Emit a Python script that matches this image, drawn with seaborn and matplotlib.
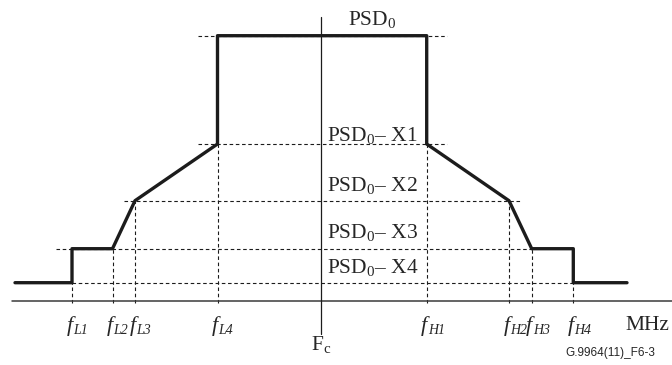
import matplotlib
matplotlib.use("Agg")
import matplotlib.pyplot as plt
import seaborn as sns
import pandas as pd

# frequencies relative to Fc (arbitrary units) and PSD levels above the axis
freq_names = ['L1', 'L2', 'L3', 'L4', 'H1', 'H2', 'H3', 'H4']
freq_pos = [-249, -208.5, -186, -103.5, 105.7, 188, 210.7, 252.3]
freq_level = [18, 52, 100, 156.7, 156.7, 100, 52, 18]

level_labels = ['PSD$_0$', 'PSD$_0$\u2013 X1', 'PSD$_0$\u2013 X2', 'PSD$_0$\u2013 X3', 'PSD$_0$\u2013 X4']
level_vals = [265, 156.7, 100, 52, 18]
level_from = [-123, -123, -197, -265, -249]
level_to = [126, 126, 199, 210.7, 252.3]

# mask outline
mask_f = [-306, -249, -249, -208.5, -186, -103.5, -103.5, 105.7, 105.7, 188, 210.7, 252.3, 252.3, 306]
mask_p = [18, 18, 52, 52, 100, 156.7, 265, 265, 156.7, 100, 52, 52, 18, 18]

sns.set_theme(style='white')
plt.rcParams['font.family'] = ['Liberation Serif', 'DejaVu Serif']
plt.rcParams['mathtext.fontset'] = 'custom'
plt.rcParams['mathtext.rm'] = 'Liberation Serif'
plt.rcParams['mathtext.it'] = 'Liberation Serif:italic'

fig = plt.figure(figsize=(6.72, 3.65), dpi=100)
ax = fig.add_axes([0, 0, 1, 1])
ax.set_xlim(-321, 351)
ax.set_ylim(-64.3, 300.7)
ax.set_axis_off()

dot = (0, (3.2, 2.4))
ink = '#1c1c1c'

# guide lines
for lv, a, b in zip(level_vals, level_from, level_to):
    ax.plot([a, b], [lv, lv], color=ink, lw=0.8, ls=dot)
for f, lv in zip(freq_pos, freq_level):
    ax.plot([f, f], [-2, lv], color=ink, lw=0.8, ls=dot)

# axis + centre line
ax.plot([-309, 351], [0, 0], color='#3a3a3a', lw=1.1)
ax.plot([0, 0], [-33, 284], color=ink, lw=0.9)

df = pd.DataFrame({'f': mask_f, 'psd': mask_p})
sns.lineplot(data=df, x='f', y='psd', sort=False, estimator=None,
             color=ink, lw=2.4, ax=ax)
ax.set_axis_off()

fs = 15.5
ax.text(27, 281, level_labels[0], fontsize=fs, va='center', ha='left')
for lab, y in zip(level_labels[1:], [165, 115, 68, 33]):
    ax.text(6, y, lab, fontsize=fs, va='center', ha='left')

# frequency labels: italic f with small italic subscript
for name, f in zip(freq_names, freq_pos):
    ax.text(f + 0.5, -30, 'f', fontsize=16, style='italic', ha='right', va='baseline')
    ax.text(f + 1, -33.5, name, fontsize=10, style='italic', ha='left', va='baseline')
ax.text(326, -25, 'MHz', fontsize=fs, ha='center', va='center')
ax.text(0, -44, 'F$_\\mathrm{c}$', fontsize=fs, ha='center', va='center')
ax.text(289, -52, 'G.9964(11)_F6-3', fontsize=8.5, ha='center', va='center',
        family='Liberation Sans')

fig.savefig('out.png', dpi=100)
